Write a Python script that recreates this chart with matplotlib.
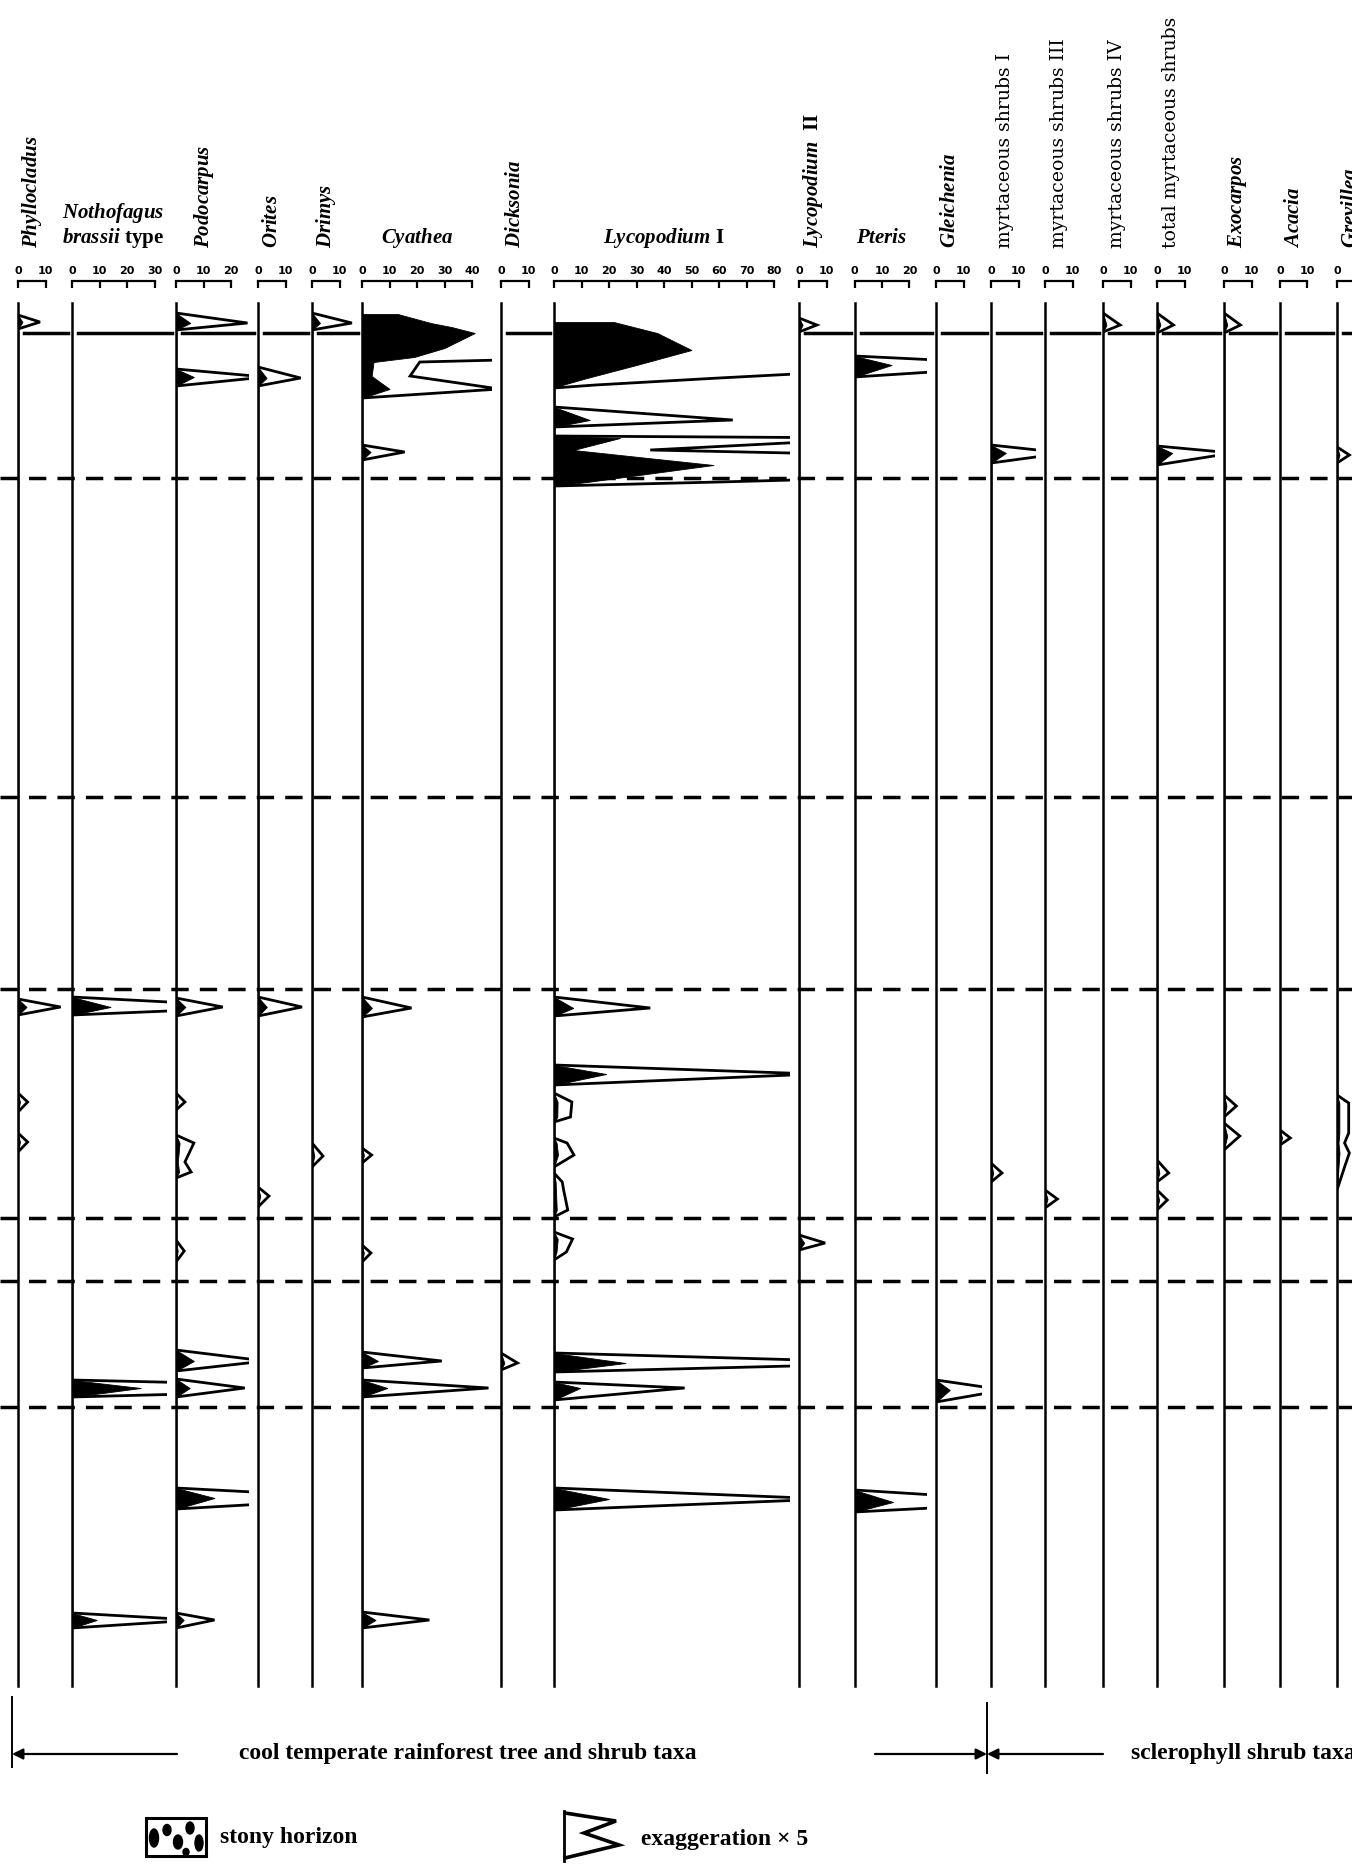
import numpy as np
import matplotlib
matplotlib.use("Agg")
import matplotlib.pyplot as plt
from matplotlib.patches import Rectangle, Ellipse

plt.rcParams["font.family"] = ["Liberation Serif", "DejaVu Serif"]
plt.rcParams["mathtext.fontset"] = "custom"
plt.rcParams["mathtext.rm"] = "Liberation Serif:bold"
plt.rcParams["mathtext.it"] = "Liberation Serif:italic:bold"
plt.rcParams["mathtext.bf"] = "Liberation Serif:bold"
plt.rcParams["lines.scale_dashes"] = False

# ---------------- data (depth in cm, values in % ) ----------------
taxa = ["Phyllocladus", "Nothofagus brassii type", "Podocarpus", "Orites", "Drimys",
        "Cyathea", "Dicksonia", "Lycopodium I", "Lycopodium II", "Pteris", "Gleichenia",
        "myrtaceous shrubs I", "myrtaceous shrubs III", "myrtaceous shrubs IV",
        "total myrtaceous shrubs", "Exocarpos", "Acacia", "Grevillea"]
scale_max = [10, 30, 20, 10, 10, 40, 10, 80, 10, 20, 10, 10, 10, 10, 10, 10, 10, 10]

phyllocladus_depth = [3, 4.75, 6.5, 174, 176, 178, 197.5, 199.75, 202.25, 207.5, 209.75, 212.25]
phyllocladus_pct = [0, 1.6, 0, 0, 3.1, 0, 0, 0.7, 0, 0, 0.7, 0]

nothofagus_depth = [173.5, 176, 178, 269.25, 271.25, 273.5, 327.5, 329.25, 331.25]
nothofagus_pct = [0, 14, 0, 0, 25, 0, 0, 9, 0]

podocarpus_depth = [2.5, 5, 6.75, 16.5, 18.5, 20.75, 173.75, 176, 178.25,
                    197.5, 199.75, 201.75, 208, 210, 214.75, 217.25, 218.75,
                    234.25, 237, 239.75, 261.75, 264.5, 267, 269, 271.25, 273.5,
                    296.25, 298.75, 301.5, 327.5, 329.25, 331.25]
podocarpus_pct = [0, 5.2, 0, 0, 6.5, 0, 0, 3.4, 0,
                  0, 0.65, 0, 0, 1.3, 0.65, 1.1, 0,
                  0, 0.6, 0, 0, 6.5, 0, 0, 5.0, 0,
                  0, 14, 0, 0, 2.8, 0]

orites_depth = [16, 18.75, 20.75, 173.5, 176, 178.25, 221, 223.25, 226]
orites_pct = [0, 3.1, 0, 0, 3.2, 0, 0, 0.8, 0]

drimys_depth = [2.5, 5, 6.75, 210, 213.25, 216]
drimys_pct = [0, 2.9, 0, 0, 0.8, 0]

cyathea_depth = [2.75, 5, 6, 7.5, 11.25, 13.5, 14.75, 18.25, 21.5, 23.75,
                 35.5, 37.25, 39.25, 173.5, 176.25, 178.5, 211.25, 213, 215,
                 235.5, 237.5, 239.75, 262.25, 264.5, 266.25, 269.25, 271.25, 273.5,
                 327.25, 329.25, 331.25]
cyathea_pct = [13, 25, 32.5, 41, 30, 19, 4.2, 3.5, 10, 0,
               0, 3.1, 0, 0, 3.6, 0, 0, 0.7, 0,
               0, 0.65, 0, 0, 5.8, 0, 0, 9.2, 0,
               0, 4.9, 0]

dicksonia_depth = [262.5, 265, 266.75]
dicksonia_pct = [0, 1.2, 0]

lycopodium1_depth = [4.75, 7.5, 11.75, 15.5, 18.75, 20.5, 21.25,
                     26, 29.25, 31,
                     33.25, 33.75, 36.75, 40.5, 44.75, 45.75,
                     173.5, 176.25, 178.25,
                     190.5, 192.75, 195.5,
                     197.5, 199.75, 203.5, 204.75,
                     208.75, 210, 213, 216,
                     217.5, 219.75, 221.75, 226.75, 228.5,
                     232.25, 234, 237.25, 239.25,
                     262.5, 265, 267.25,
                     269.75, 271.25, 274.25,
                     296.25, 299, 301.75]
lycopodium1_pct = [21.7, 37.5, 50, 30, 12, 3, 0,
                   0, 13, 0,
                   0, 24, 7, 58, 12, 0,
                   0, 7, 0,
                   0, 19, 0,
                   0, 1.3, 1.2, 0,
                   0, 0.95, 1.45, 0,
                   0, 0.6, 0.7, 1.0, 0,
                   0, 1.35, 0.9, 0,
                   0, 26, 0,
                   0, 9.5, 0,
                   0, 20, 0]

lycopodium2_depth = [3.75, 5.5, 7.25, 233, 235, 236.75]
lycopodium2_pct = [0, 1.3, 0, 0, 1.9, 0]

pteris_depth = [13.25, 15.5, 18.5, 296.75, 299.75, 302.25]
pteris_pct = [0, 13.5, 0, 0, 14, 0]

gleichenia_depth = [269.25, 271.75, 274.75]
gleichenia_pct = [0, 5, 0]

myrt1_depth = [35.5, 37.5, 40, 215, 217.5, 219.75]
myrt1_pct = [0, 5.4, 0, 0, 0.8, 0]

myrt3_depth = [221.75, 224, 226.25]
myrt3_pct = [0, 0.9, 0]

myrt4_depth = [2.5, 5.5, 7.25]
myrt4_pct = [0, 1.25, 0]

myrt_total_depth = [2.5, 5.5, 7.5, 35.75, 37.5, 40.5, 214.25, 217.5, 219.75, 221.75, 224.25, 226.75]
myrt_total_pct = [0, 1.2, 0, 0, 5.5, 0, 0, 0.85, 0, 0, 0.75, 0]

exocarpos_depth = [2.5, 5.5, 7.5, 198, 200.75, 203.5, 205, 208.25, 211.75]
exocarpos_pct = [0, 1.2, 0, 0, 0.9, 0, 0, 1.15, 0]

acacia_depth = [206.75, 208.75, 210.5]
acacia_pct = [0, 0.75, 0]

grevillea_depth = [36, 38, 40, 198, 200, 207.5, 210, 212.5, 216, 221.75]
grevillea_pct = [0, 0.9, 0, 0, 0.85, 0.85, 0.55, 0.9, 0.55, 0]

surface_depth = 7.5
zone_depths = [43.75, 123.5, 171.5, 228.75, 244.5, 276]
EXAG = 5

depths = [phyllocladus_depth, nothofagus_depth, podocarpus_depth, orites_depth, drimys_depth,
          cyathea_depth, dicksonia_depth, lycopodium1_depth, lycopodium2_depth, pteris_depth,
          gleichenia_depth, myrt1_depth, myrt3_depth, myrt4_depth, myrt_total_depth,
          exocarpos_depth, acacia_depth, grevillea_depth]
values = [phyllocladus_pct, nothofagus_pct, podocarpus_pct, orites_pct, drimys_pct,
          cyathea_pct, dicksonia_pct, lycopodium1_pct, lycopodium2_pct, pteris_pct,
          gleichenia_pct, myrt1_pct, myrt3_pct, myrt4_pct, myrt_total_pct,
          exocarpos_pct, acacia_pct, grevillea_pct]

# header labels (mathtext for italic parts)
rot_labels = {
    0: r"$\mathit{Phyllocladus}$", 2: r"$\mathit{Podocarpus}$", 3: r"$\mathit{Orites}$",
    4: r"$\mathit{Drimys}$", 6: r"$\mathit{Dicksonia}$", 8: r"$\mathit{Lycopodium}$  II",
    10: r"$\mathit{Gleichenia}$", 11: "myrtaceous shrubs I", 12: "myrtaceous shrubs III",
    13: "myrtaceous shrubs IV", 14: "total myrtaceous shrubs", 15: r"$\mathit{Exocarpos}$",
    16: r"$\mathit{Acacia}$", 17: r"$\mathit{Grevillea}$"}
horiz_labels = {
    1: [(r"$\mathit{Nothofagus}$", 218), (r"$\mathit{brassii}$ type", 243)],
    5: [(r"$\mathit{Cyathea}$", 243)],
    7: [(r"$\mathit{Lycopodium}$ I", 243)],
    9: [(r"$\mathit{Pteris}$", 243)]}

# ---------------- layout (pixels of the 1352x1864 canvas) ----------------
W, H, DPI = 1352, 1864, 100
PT = 72 / DPI
column_x = [18, 72, 176, 258, 312, 362, 501, 554, 799, 854.5, 936, 991, 1045, 1103,
            1157, 1224, 1280, 1337]
COL_TOP, COL_BOTTOM = 303, 1686
DEPTH_BOTTOM = 345.75
PX_PER_PCT = 2.75

fig = plt.figure(figsize=(W / DPI, H / DPI), dpi=DPI)
fig.patch.set_facecolor("white")


def px_axes(x0, y0, x1, y1, **kw):
    return fig.add_axes([x0 / W, 1 - y1 / H, (x1 - x0) / W, (y1 - y0) / H], **kw)


bg = px_axes(0, COL_TOP, W, COL_BOTTOM)
bg.set_xlim(0, 1)
bg.set_ylim(DEPTH_BOTTOM, 0)
bg.axis("off")
for z in zone_depths:
    bg.axhline(z, color="black", lw=2.5, dashes=(12.5, 8))

for i, name in enumerate(taxa):
    b = column_x[i]
    r = column_x[i + 1] - 9 if i + 1 < len(taxa) else b + 60
    wpx = r - b
    ax = px_axes(b, COL_TOP, r, COL_BOTTOM)
    ax.patch.set_alpha(0)
    ax.set_xlim(0, wpx / PX_PER_PCT)
    ax.set_ylim(DEPTH_BOTTOM, 0)
    d = np.asarray(depths[i], float)
    v = np.asarray(values[i], float)
    ax.fill_betweenx(d, 0, v, facecolor="black", edgecolor="black", lw=0.6, zorder=3)
    ax.plot(v * EXAG, d, color="black", lw=2.0, solid_joinstyle="miter", zorder=4)
    if np.interp(surface_depth, d, v) == 0:
        ax.axhline(surface_depth, xmin=6 / wpx, xmax=(wpx + 5) / wpx, color="black",
                   lw=2.5, clip_on=False)
    for s in ("right", "bottom"):
        ax.spines[s].set_visible(False)
    ax.spines["left"].set_linewidth(1.8)
    ax.spines["top"].set_position(("outward", (COL_TOP - 281) * PT))
    ax.spines["top"].set_bounds(0, scale_max[i])
    ax.spines["top"].set_linewidth(1.6)
    ax.set_yticks([])
    ticks = np.arange(0, scale_max[i] + 1, 10)
    ax.set_xticks(ticks)
    ax.set_xticklabels([str(t) for t in ticks], fontfamily="DejaVu Sans",
                       fontweight="bold", fontsize=8)
    ax.xaxis.set_ticks_position("top")
    ax.tick_params(axis="x", direction="in", length=7 * PT, width=1.6, pad=4.5 * PT,
                   labeltop=True, labelbottom=False)
    cx = scale_max[i] / 2
    if i in rot_labels:
        lab = rot_labels[i]
        if "myrtaceous" in lab:
            kw = dict(fontsize=13.6, fontfamily="DejaVu Serif")
        else:
            kw = dict(fontsize=15, fontweight="bold")
        ax.annotate(lab, xy=(cx, 1), xycoords=("data", "axes fraction"),
                    xytext=(0, (COL_TOP - 248) * PT), textcoords="offset points",
                    rotation=90, ha="center", va="bottom", annotation_clip=False, **kw)
    else:
        for lab, base_y in horiz_labels[i]:
            ax.annotate(lab, xy=(cx, 1), xycoords=("data", "axes fraction"),
                        xytext=(0, (COL_TOP - base_y) * PT), textcoords="offset points",
                        ha="center", va="baseline", fontsize=15, fontweight="bold",
                        annotation_clip=False)

# ---------------- footer: group brackets and key ----------------
foot = fig.add_axes([0, 0, 1, 1], zorder=5)
foot.patch.set_alpha(0)
foot.set_xlim(0, W)
foot.set_ylim(H, 0)
foot.axis("off")

arrow_kw = dict(arrowstyle="-|>", color="black", lw=1.6, mutation_scale=16,
                shrinkA=0, shrinkB=0)
g0 = column_x[0] - 6
g1 = column_x[11] - 4
ay = 1754
foot.plot([g0, g0], [1697, 1767], color="black", lw=1.4)
foot.annotate("", xy=(g0, ay), xytext=(177, ay), arrowprops=arrow_kw)
foot.plot([g1, g1], [1703, 1773], color="black", lw=1.4)
foot.annotate("", xy=(g1, ay), xytext=(875, ay), arrowprops=arrow_kw)
foot.annotate("", xy=(g1, ay), xytext=(1103, ay), arrowprops=arrow_kw)
foot.text(468, ay, "cool temperate rainforest tree and shrub taxa", ha="center",
          va="center", fontsize=17, fontweight="bold")
foot.text(1131, ay, "sclerophyll shrub taxa", ha="left", va="center", fontsize=17,
          fontweight="bold")

# key: stony horizon
foot.add_patch(Rectangle((146, 1818), 60, 38, fill=False, lw=2.2, ec="black"))
for (ex, ey, ew, eh) in [(154, 1838, 9, 18), (167, 1830, 8, 11), (178, 1842, 9, 14),
                         (190, 1828, 8, 12), (199, 1843, 8, 16), (186, 1852, 6, 7)]:
    foot.add_patch(Ellipse((ex, ey), ew, eh, color="black"))
foot.text(220, 1837, "stony horizon", ha="left", va="center", fontsize=17, fontweight="bold")

# key: exaggeration
foot.plot([564, 564], [1811, 1861], color="black", lw=2.0)
foot.plot([565, 616, 584, 619, 565], [1813, 1821, 1833, 1845, 1858], color="black",
          lw=2.6, solid_joinstyle="miter")
foot.text(641, 1840, "exaggeration × 5", ha="left", va="center", fontsize=17,
          fontweight="bold")

fig.savefig("out.png", dpi=DPI)
